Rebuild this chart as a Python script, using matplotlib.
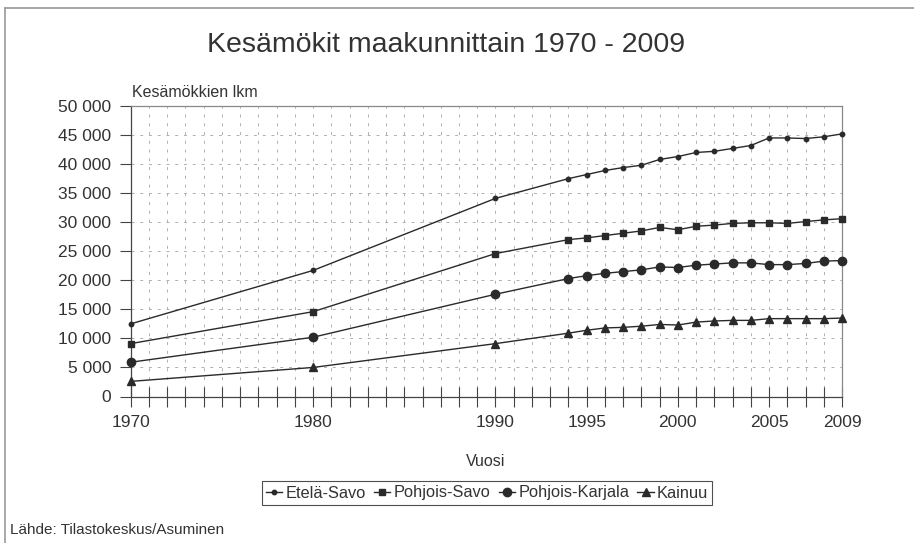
import matplotlib
matplotlib.use("Agg")
import matplotlib.pyplot as plt
from matplotlib.lines import Line2D

plt.rcParams['font.family'] = ['Liberation Sans', 'DejaVu Sans']

years = [1970, 1980, 1990, 1994, 1995, 1996, 1997, 1998, 1999, 2000,
         2001, 2002, 2003, 2004, 2005, 2006, 2007, 2008, 2009]

etela_savo = [12500, 21700, 34100, 37500, 38200, 38900, 39400, 39800, 40800, 41300,
              42000, 42200, 42700, 43200, 44500, 44500, 44400, 44700, 45200]
pohjois_savo = [9100, 14600, 24600, 27000, 27300, 27700, 28100, 28500, 29100, 28700,
                29300, 29500, 29800, 29900, 29900, 29800, 30100, 30400, 30600]
pohjois_karjala = [5900, 10200, 17600, 20300, 20800, 21200, 21500, 21800, 22300, 22200,
                   22600, 22800, 23000, 23000, 22700, 22700, 22900, 23300, 23400]
kainuu = [2600, 5000, 9100, 10900, 11400, 11800, 11900, 12100, 12400, 12300,
          12800, 13000, 13100, 13100, 13400, 13400, 13400, 13400, 13500]

series_names = ['Etelä-Savo', 'Pohjois-Savo', 'Pohjois-Karjala', 'Kainuu']
labeled_years = [1970, 1980, 1990, 1995, 2000, 2005, 2009]
y_ticks = [0, 5000, 10000, 15000, 20000, 25000, 30000, 35000, 40000, 45000, 50000]
y_labels = ['0', '5 000', '10 000', '15 000', '20 000', '25 000', '30 000',
            '35 000', '40 000', '45 000', '50 000']

txt = '#333333'
fig = plt.figure(figsize=(9.14, 5.43), dpi=100)
ax = fig.add_axes([130.7/914, 1-396.5/543, (842-130.7)/914, (396.5-106)/543])

styles = [('o', 3.2), ('s', 5), ('o', 6), ('^', 6)]
data = [etela_savo, pohjois_savo, pohjois_karjala, kainuu]
handles = []
for name, vals, (m, ms) in zip(series_names, data, styles):
    ln, = ax.plot(years, vals, color='#2a2a2a', lw=1.0, marker=m, markersize=ms,
                  label=name, zorder=3, clip_on=False)
    handles.append(ln)

ax.set_xlim(1970, 2009)
ax.set_ylim(0, 50000)
all_years = list(range(1970, 2010))
ax.set_xticks(all_years)
ax.set_xticklabels([str(y) if y in labeled_years else '' for y in all_years],
                   fontsize=12.5, color=txt)
ax.set_yticks(y_ticks)
ax.set_yticklabels(y_labels, fontsize=12.5, color=txt)
ax.tick_params(axis='x', direction='inout', length=14, width=0.8, color='#444444', pad=6)
ax.tick_params(axis='y', direction='out', length=8, width=0.8, color='#444444', pad=6)

ax.grid(True, color='#b0b0b0', linestyle=(0, (3, 6)), linewidth=0.7, zorder=0)
for s in ['left', 'bottom']:
    ax.spines[s].set_color('#444444')
    ax.spines[s].set_linewidth(0.9)
for s in ['top', 'right']:
    ax.spines[s].set_color('#888888')
    ax.spines[s].set_linewidth(0.9)

fig.text(446/914, 1-45/543, 'Kesämökit maakunnittain 1970 - 2009', ha='center',
         va='center', fontsize=20.5, color=txt)
fig.text(132/914, 1-97/543, 'Kesämökkien lkm', ha='left', va='baseline',
         fontsize=11.5, color=txt)
fig.text(486/914, 1-461/543, 'Vuosi', ha='center', va='center', fontsize=11.5, color=txt)
fig.text(10/914, 1-530/543, 'Lähde: Tilastokeskus/Asuminen', ha='left', va='center',
         fontsize=11, color=txt)

leg = fig.legend(handles=handles, loc='center', bbox_to_anchor=(487/914, 1-493/543),
                 ncol=4, fontsize=11.8, frameon=True, fancybox=False, handlelength=1.0,
                 handletextpad=0.2, columnspacing=0.5, borderpad=0.25, borderaxespad=0)
leg.get_frame().set_edgecolor('#222222')
leg.get_frame().set_linewidth(0.8)
for t in leg.get_texts():
    t.set_color(txt)

# chart area border (cut off at right and bottom)
fig.add_artist(Line2D([5/914, 5/914], [0, 1-8/543], transform=fig.transFigure,
                      color='#9a9a9a', lw=1.2))
fig.add_artist(Line2D([5/914, 1], [1-8/543, 1-8/543], transform=fig.transFigure,
                      color='#9a9a9a', lw=1.2))

fig.savefig('out.png', dpi=100)
